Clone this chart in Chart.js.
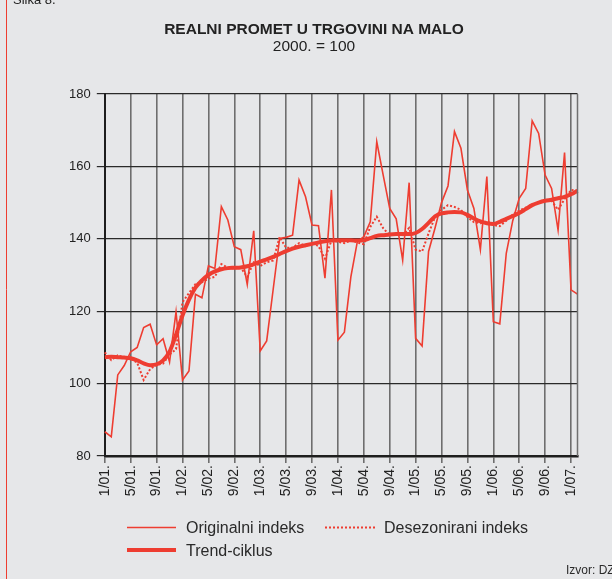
<!DOCTYPE html>
<html>
<head>
<meta charset="utf-8">
<script src="https://cdn.jsdelivr.net/npm/chart.js@4.4.1/dist/chart.umd.min.js"></script>
<style>
  html, body { margin: 0; padding: 0; background: #e6e7e9; }
  #wrap { width: 612px; height: 579px; position: relative; }
</style>
</head>
<body>
<div id="wrap"><canvas id="chart" width="612" height="579"></canvas></div>
<script>
// monthly labels 1/01. .. 2/07.
const months = [
  "1/01.", "2/01.", "3/01.", "4/01.", "5/01.", "6/01.", "7/01.", "8/01.", "9/01.", "10/01.", "11/01.", "12/01.",
  "1/02.", "2/02.", "3/02.", "4/02.", "5/02.", "6/02.", "7/02.", "8/02.", "9/02.", "10/02.", "11/02.", "12/02.",
  "1/03.", "2/03.", "3/03.", "4/03.", "5/03.", "6/03.", "7/03.", "8/03.", "9/03.", "10/03.", "11/03.", "12/03.",
  "1/04.", "2/04.", "3/04.", "4/04.", "5/04.", "6/04.", "7/04.", "8/04.", "9/04.", "10/04.", "11/04.", "12/04.",
  "1/05.", "2/05.", "3/05.", "4/05.", "5/05.", "6/05.", "7/05.", "8/05.", "9/05.", "10/05.", "11/05.", "12/05.",
  "1/06.", "2/06.", "3/06.", "4/06.", "5/06.", "6/06.", "7/06.", "8/06.", "9/06.", "10/06.", "11/06.", "12/06.",
  "1/07.", "2/07."
];

const originalni = [
  86.7, 85.3, 102.4, 105.0, 108.8, 110.0, 115.5, 116.4, 110.7, 112.4, 106.0, 119.8,
  101.0, 103.5, 124.7, 123.7, 132.5, 131.8, 148.9, 145.2, 137.8, 137.0, 127.4, 142.2,
  109.0, 111.8, 126.0, 140.1, 140.4, 141.0, 156.2, 151.6, 143.8, 143.6, 129.1, 153.5,
  112.0, 114.2, 129.5, 139.2, 140.6, 144.7, 166.8, 157.5, 148.4, 145.5, 134.1, 155.5,
  112.5, 110.4, 136.5, 143.0, 150.0, 154.6, 169.6, 165.0, 153.5, 148.4, 137.0, 157.2,
  117.1, 116.5, 136.0, 145.0, 151.2, 153.9, 172.6, 169.1, 157.6, 153.9, 142.4, 163.8,
  125.9, 124.7
];

const desezonirani = [
  108.6, 106.5, 107.8, 107.2, 106.8, 105.8, 101.0, 104.0, 105.2, 105.5, 108.0, 109.5,
  122.5, 125.0, 127.5, 128.0, 129.0, 129.5, 133.0, 132.0, 131.8, 132.0, 129.5, 133.5,
  132.5, 133.5, 134.0, 140.5, 137.5, 137.5, 138.8, 138.0, 138.8, 138.0, 134.5, 139.5,
  139.2, 138.8, 139.5, 139.0, 138.5, 143.3, 146.1, 142.9, 141.0, 141.4, 141.0, 143.0,
  137.0, 136.5, 141.5, 146.0, 148.0, 149.3, 148.8, 148.0, 146.0, 144.6, 144.3, 144.8,
  143.8, 143.5, 145.0, 146.7, 147.8, 148.6, 149.5, 149.8, 150.7, 150.5, 148.0, 151.0,
  153.5, 153.3
];

const trendCiklus = [
  107.3, 107.4, 107.3, 107.2, 107.0, 106.4, 105.6, 105.1, 105.3, 106.4, 108.8, 113.5,
  118.8, 123.2, 126.5, 128.5, 130.0, 131.0, 131.6, 131.9, 132.0, 132.1, 132.4, 133.0,
  133.7, 134.3, 135.0, 135.8, 136.6, 137.3, 137.8, 138.2, 138.6, 139.0, 139.3, 139.5,
  139.6, 139.6, 139.6, 139.5, 139.6, 140.2, 140.8, 141.0, 141.2, 141.3, 141.3, 141.3,
  141.6, 142.7, 144.4, 146.2, 147.0, 147.3, 147.4, 147.3, 146.6, 145.6, 144.8, 144.3,
  144.1, 144.7, 145.5, 146.3, 147.1, 148.2, 149.3, 150.0, 150.5, 150.8, 151.2, 151.6,
  152.3, 153.3
];

const red = "#ee3d31";
const font = "'Liberation Sans', Arial, Helvetica, sans-serif";

// background, texts, frame and legend
const decor = {
  id: "decor",
  beforeDraw(chart) {
    const c = chart.ctx;
    c.save();
    c.fillStyle = "#e6e7e9";
    c.fillRect(0, 0, chart.width, chart.height);
    c.restore();
  },
  afterDraw(chart) {
    const c = chart.ctx;
    const a = chart.chartArea;
    c.save();
    // left red frame line
    c.strokeStyle = red;
    c.lineWidth = 1;
    c.beginPath();
    c.moveTo(6.5, 0);
    c.lineTo(6.5, chart.height);
    c.stroke();

    // right plot border
    c.strokeStyle = "#707070";
    c.lineWidth = 1.5;
    c.beginPath();
    c.moveTo(a.right, a.top);
    c.lineTo(a.right, a.bottom);
    c.stroke();

    c.fillStyle = "#222";
    c.textAlign = "left";
    c.textBaseline = "alphabetic";
    c.font = "13px " + font;
    c.fillText("Slika 8.", 13, 4);

    c.textAlign = "center";
    c.textBaseline = "middle";
    c.font = "bold 15.5px " + font;
    c.fillText("REALNI PROMET U TRGOVINI NA MALO", 314, 30);
    c.font = "15.5px " + font;
    c.fillText("2000. = 100", 314, 47);

    // legend
    c.strokeStyle = red;
    c.lineWidth = 1.5;
    c.beginPath();
    c.moveTo(127, 527.5);
    c.lineTo(176, 527.5);
    c.stroke();
    c.setLineDash([2, 2]);
    c.lineWidth = 2;
    c.beginPath();
    c.moveTo(325, 527.5);
    c.lineTo(375, 527.5);
    c.stroke();
    c.setLineDash([]);
    c.lineWidth = 4;
    c.beginPath();
    c.moveTo(127, 550);
    c.lineTo(176, 550);
    c.stroke();

    c.fillStyle = "#2a2a2a";
    c.textAlign = "left";
    c.font = "16px " + font;
    c.fillText("Originalni indeks", 186, 529);
    c.fillText("Desezonirani indeks", 384, 529);
    c.fillText("Trend-ciklus", 186, 552);

    c.font = "12px " + font;
    c.fillText("Izvor: DZS", 566, 571);
    c.restore();
  }
};

new Chart(document.getElementById("chart"), {
  type: "line",
  data: {
    labels: months,
    datasets: [
      {
        label: "Originalni indeks",
        data: originalni,
        borderColor: red,
        borderWidth: 1.6,
        pointRadius: 0,
        tension: 0,
        order: 2,
      },
      {
        label: "Desezonirani indeks",
        data: desezonirani,
        borderColor: red,
        borderWidth: 2,
        borderDash: [2, 2],
        pointRadius: 0,
        tension: 0,
        order: 1,
      },
      {
        label: "Trend-ciklus",
        data: trendCiklus,
        borderColor: red,
        borderWidth: 4,
        pointRadius: 0,
        cubicInterpolationMode: "monotone",
        order: 0,
      },
    ],
  },
  options: {
    responsive: false,
    animation: false,
    devicePixelRatio: 1,
    layout: { padding: { left: 0, right: 34.5, top: 94, bottom: 83 } },
    plugins: {
      legend: { display: false },
      title: { display: false },
      tooltip: { enabled: false },
    },
    scales: {
      x: {
        afterFit: (s) => { s.height = 40; },
        offset: false,
        grid: {
          color: "#6e6e6e",
          lineWidth: 1.6,
          tickLength: 7,
        },
        border: { color: "#1e1e1e", width: 2.5 },
        ticks: {
          autoSkip: false,
          minRotation: 90,
          maxRotation: 90,
          padding: 2,
          color: "#222",
          font: { family: font, size: 14 },
          callback: function (value, index) {
            return index % 4 === 0 ? this.getLabelForValue(value) : null;
          },
        },
      },
      y: {
        afterFit: (s) => { s.width = 104.8; },
        min: 80,
        max: 180,
        grid: {
          color: "#2a2a2a",
          lineWidth: 1.2,
          tickLength: 8,
        },
        border: { color: "#1e1e1e", width: 2 },
        ticks: {
          stepSize: 20,
          padding: 6,
          color: "#222",
          font: { family: font, size: 13 },
        },
      },
    },
  },
  plugins: [decor],
});
</script>
</body>
</html>
